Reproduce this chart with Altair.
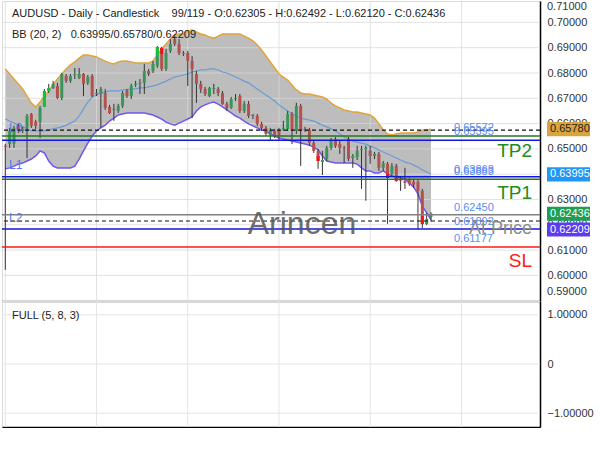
import altair as alt
import numpy as np
import pandas as pd

# ---------------- data ----------------
title_text = "AUDUSD - Daily - Candlestick\u00a0\u00a0\u00a0\u00a099/119 - O:0.62305 - H:0.62492 - L:0.62120 - C:0.62436"
bb_text = "BB (20, 2)\u00a0\u00a0\u00a00.63995/0.65780/0.62209"
osc_text = "FULL (5, 8, 3)"

opens = [
    0.6512, 0.6520, 0.6520, 0.6591, 0.6571, 0.6583, 0.6638, 0.6607, 0.6607, 0.6670,
    0.6729, 0.6741, 0.6749, 0.6701, 0.6788, 0.6769, 0.6792, 0.6780, 0.6796, 0.6761,
    0.6788, 0.6717, 0.6717, 0.6721, 0.6666, 0.6658, 0.6650, 0.6670, 0.6729, 0.6709,
    0.6753, 0.6757, 0.6761, 0.6808, 0.6808, 0.6828, 0.6899, 0.6816, 0.6887, 0.6934,
    0.6915, 0.6875, 0.6879, 0.6848, 0.6796, 0.6757, 0.6737, 0.6709, 0.6737, 0.6737,
    0.6721, 0.6678, 0.6662, 0.6697, 0.6709, 0.6650, 0.6678, 0.6634, 0.6630, 0.6599,
    0.6583, 0.6555, 0.6571, 0.6575, 0.6579, 0.6579, 0.6638, 0.6571, 0.6670, 0.6579,
    0.6575, 0.6524, 0.6492, 0.6448, 0.6460, 0.6504, 0.6539, 0.6519, 0.6504, 0.6539,
    0.6464, 0.6468, 0.6496, 0.6500, 0.6492, 0.6472, 0.6480, 0.6425, 0.6441, 0.6401,
    0.6433, 0.6382, 0.6374, 0.6378, 0.6370, 0.6370, 0.6334, 0.6203, 0.62305]
highs = [
    0.6520, 0.6583, 0.6591, 0.6599, 0.6587, 0.6638, 0.6642, 0.6615, 0.6670, 0.6737,
    0.6757, 0.6769, 0.6761, 0.6800, 0.6796, 0.6796, 0.6820, 0.6820, 0.6800, 0.6792,
    0.6796, 0.6737, 0.6745, 0.6737, 0.6674, 0.6678, 0.6678, 0.6729, 0.6737, 0.6757,
    0.6769, 0.6776, 0.6836, 0.6816, 0.6848, 0.6907, 0.6903, 0.6895, 0.6934, 0.6946,
    0.6934, 0.6887, 0.6887, 0.6867, 0.6808, 0.6769, 0.6745, 0.6745, 0.6757, 0.6745,
    0.6729, 0.6686, 0.6705, 0.6717, 0.6717, 0.6689, 0.6689, 0.6638, 0.6638, 0.6607,
    0.6591, 0.6583, 0.6579, 0.6583, 0.6611, 0.6650, 0.6646, 0.6682, 0.6678, 0.6587,
    0.6583, 0.6531, 0.6500, 0.6492, 0.6512, 0.6543, 0.6547, 0.6531, 0.6512, 0.6547,
    0.6480, 0.6512, 0.6512, 0.6512, 0.6512, 0.6488, 0.6488, 0.6452, 0.6448, 0.6444,
    0.6441, 0.6389, 0.6425, 0.6386, 0.6382, 0.6378, 0.6342, 0.6247, 0.62492]
lows = [
    0.6022, 0.6504, 0.6504, 0.6563, 0.6563, 0.6464, 0.6583, 0.6579, 0.6543, 0.6666,
    0.6721, 0.6737, 0.6697, 0.6693, 0.6761, 0.6761, 0.6776, 0.6776, 0.6709, 0.6753,
    0.6705, 0.6709, 0.6583, 0.6654, 0.6638, 0.6611, 0.6642, 0.6662, 0.6701, 0.6697,
    0.6745, 0.6717, 0.6717, 0.6788, 0.6800, 0.6820, 0.6808, 0.6808, 0.6879, 0.6907,
    0.6871, 0.6867, 0.6749, 0.6622, 0.6682, 0.6721, 0.6709, 0.6705, 0.6717, 0.6709,
    0.6674, 0.6650, 0.6658, 0.6689, 0.6642, 0.6642, 0.6622, 0.6618, 0.6591, 0.6571,
    0.6551, 0.6531, 0.6543, 0.6531, 0.6571, 0.6571, 0.6519, 0.6559, 0.6433, 0.6567,
    0.6512, 0.6484, 0.6421, 0.6397, 0.6452, 0.6496, 0.6504, 0.6480, 0.6444, 0.6452,
    0.6425, 0.6456, 0.6342, 0.6295, 0.6441, 0.6460, 0.6413, 0.6413, 0.6204, 0.6393,
    0.6370, 0.6334, 0.6342, 0.6354, 0.6346, 0.6183, 0.6187, 0.6199, 0.62120]
closes = [
    0.6508, 0.6571, 0.6583, 0.6571, 0.6579, 0.6630, 0.6591, 0.6591, 0.6662, 0.6729,
    0.6741, 0.6757, 0.6701, 0.6796, 0.6769, 0.6788, 0.6796, 0.6796, 0.6757, 0.6784,
    0.6709, 0.6721, 0.6737, 0.6662, 0.6642, 0.6654, 0.6670, 0.6721, 0.6709, 0.6749,
    0.6757, 0.6761, 0.6808, 0.6796, 0.6836, 0.6903, 0.6816, 0.6879, 0.6915, 0.6915,
    0.6879, 0.6879, 0.6848, 0.6816, 0.6757, 0.6737, 0.6717, 0.6741, 0.6741, 0.6721,
    0.6678, 0.6662, 0.6697, 0.6701, 0.6650, 0.6678, 0.6630, 0.6630, 0.6599, 0.6583,
    0.6559, 0.6575, 0.6551, 0.6551, 0.6583, 0.6638, 0.6575, 0.6670, 0.6571, 0.6575,
    0.6524, 0.6492, 0.6452, 0.6456, 0.6504, 0.6535, 0.6512, 0.6504, 0.6500, 0.6460,
    0.6472, 0.6492, 0.6500, 0.6504, 0.6472, 0.6480, 0.6425, 0.6444, 0.6385, 0.6433,
    0.6374, 0.6374, 0.6366, 0.6362, 0.6358, 0.6334, 0.6203, 0.6223, 0.62436]

bb_upper = [
    0.6816, 0.6796, 0.6776, 0.6757, 0.6737, 0.6709, 0.6681, 0.6666, 0.6685, 0.6709,
    0.6729, 0.6753, 0.6776, 0.6796, 0.6816, 0.6832, 0.6844, 0.6859, 0.6871, 0.6871,
    0.6867, 0.6863, 0.6855, 0.6847, 0.6840, 0.6836, 0.6844, 0.6847, 0.6847, 0.6844,
    0.6840, 0.6840, 0.6840, 0.6840, 0.6847, 0.6871, 0.6895, 0.6915, 0.6934, 0.6950,
    0.6954, 0.6954, 0.6966, 0.6970, 0.6962, 0.6954, 0.6950, 0.6942, 0.6938, 0.6946,
    0.6954, 0.6954, 0.6954, 0.6954, 0.6954, 0.6946, 0.6938, 0.6927, 0.6911, 0.6891,
    0.6867, 0.6844, 0.6820, 0.6796, 0.6784, 0.6772, 0.6753, 0.6733, 0.6721, 0.6717,
    0.6717, 0.6713, 0.6709, 0.6705, 0.6697, 0.6681, 0.6670, 0.6662, 0.6654, 0.6650,
    0.6646, 0.6646, 0.6642, 0.6638, 0.6634, 0.6622, 0.6599, 0.6575, 0.6559, 0.6555,
    0.6559, 0.6563, 0.6563, 0.6563, 0.6563, 0.6567, 0.6575, 0.6575, 0.65780]
bb_mid = [
    0.6618, 0.6610, 0.6602, 0.6594, 0.6587, 0.6579, 0.6571, 0.6571, 0.6571, 0.6571,
    0.6575, 0.6579, 0.6583, 0.6587, 0.6594, 0.6602, 0.6610, 0.6630, 0.6658, 0.6685,
    0.6705, 0.6713, 0.6721, 0.6725, 0.6729, 0.6729, 0.6729, 0.6733, 0.6733, 0.6737,
    0.6737, 0.6741, 0.6741, 0.6745, 0.6749, 0.6753, 0.6761, 0.6768, 0.6776, 0.6784,
    0.6788, 0.6792, 0.6796, 0.6804, 0.6808, 0.6812, 0.6812, 0.6816, 0.6816, 0.6812,
    0.6804, 0.6800, 0.6792, 0.6784, 0.6776, 0.6768, 0.6761, 0.6749, 0.6737, 0.6725,
    0.6713, 0.6701, 0.6689, 0.6674, 0.6662, 0.6650, 0.6638, 0.6630, 0.6622, 0.6618,
    0.6614, 0.6610, 0.6602, 0.6594, 0.6587, 0.6579, 0.6571, 0.6559, 0.6547, 0.6539,
    0.6531, 0.6527, 0.6523, 0.6519, 0.6511, 0.6504, 0.6496, 0.6488, 0.6480, 0.6472,
    0.6464, 0.6456, 0.6448, 0.6444, 0.6436, 0.6428, 0.6417, 0.6409, 0.63995]
bb_lower = [
    0.6421, 0.6425, 0.6432, 0.6440, 0.6444, 0.6452, 0.6460, 0.6472, 0.6492, 0.6484,
    0.6452, 0.6432, 0.6425, 0.6425, 0.6425, 0.6425, 0.6432, 0.6460, 0.6492, 0.6523,
    0.6551, 0.6571, 0.6583, 0.6594, 0.6610, 0.6622, 0.6634, 0.6638, 0.6642, 0.6642,
    0.6642, 0.6642, 0.6642, 0.6638, 0.6634, 0.6626, 0.6618, 0.6606, 0.6599, 0.6594,
    0.6602, 0.6610, 0.6618, 0.6626, 0.6650, 0.6666, 0.6674, 0.6681, 0.6685, 0.6677,
    0.6666, 0.6654, 0.6642, 0.6630, 0.6622, 0.6610, 0.6599, 0.6591, 0.6583, 0.6575,
    0.6571, 0.6559, 0.6551, 0.6543, 0.6539, 0.6535, 0.6531, 0.6527, 0.6523, 0.6519,
    0.6515, 0.6507, 0.6496, 0.6472, 0.6452, 0.6448, 0.6444, 0.6444, 0.6444, 0.6444,
    0.6444, 0.6440, 0.6425, 0.6413, 0.6413, 0.6405, 0.6405, 0.6413, 0.6401, 0.6393,
    0.6389, 0.6385, 0.6381, 0.6365, 0.6349, 0.6322, 0.6274, 0.6247, 0.62209]

# highlighted (signal) candle segments
hl_idx = [9, 10, 35, 36, 72, 88, 90, 96]
hl_top = [0.6729, 0.6741, 0.6903, 0.6899, 0.6472, 0.6401, 0.6385, 0.6235]
hl_bot = [0.6666, 0.6729, 0.6867, 0.6875, 0.6452, 0.6385, 0.6374, 0.6203]
hl_dir = ["up", "up", "up", "down", "down", "down", "down", "down"]

# horizontal levels
level_prices = [0.6574, 0.6551, 0.6534, 0.6390, 0.6380, 0.6240, 0.6215, 0.6183, 0.6112]
level_kinds = ["dash", "green", "blue", "blue", "green", "gray", "dash", "blue", "red"]

price_ticks = [0.60, 0.61, 0.62, 0.63, 0.64, 0.65, 0.66, 0.67, 0.68, 0.69, 0.70]
grid_idx = [0, 21, 42, 63, 84, 105]
osc_ticks = [1, 0, -1]

box_values = [0.65780, 0.63995, 0.62436]
box_fills = ["#d9a43c", "#2196f3", "#1e9e52"]
box_text_colors = ["#222222", "#ffffff", "#ffffff"]
lower_box_value = 0.62209

n = len(closes)
for arr in (opens, highs, lows, bb_upper, bb_mid, bb_lower):
    assert len(arr) == n, len(arr)

# ---------------- scales / axes ----------------
FONT = "Liberation Sans"
XS = alt.Scale(domain=[-0.76, 123.09], nice=False, zero=False, padding=0)
YS = alt.Scale(domain=[0.58988, 0.70846], nice=False, zero=False, padding=0)
XAX = alt.Axis(orient="bottom", labels=False, ticks=False, grid=False, domain=True,
               domainColor="#555555", domainWidth=1.5, title=None)
YAX = alt.Axis(orient="right", values=price_ticks, format=".5f", grid=False, ticks=False,
               labelPadding=7, domain=True, domainColor="#000000", domainWidth=1.5,
               labelFontSize=11, labelColor="#333333", title=None, labelOverlap=False,
               zindex=0, labelFont=FONT)


def X(f):
    return alt.X(f"{f}:Q", scale=XS, axis=XAX)


def Y(f):
    return alt.Y(f"{f}:Q", scale=YS, axis=YAX)


def vtext(txt, x, y, size=11, color="#222222", align="left", **kw):
    return alt.Chart(pd.DataFrame({"t": [txt]})).mark_text(
        align=align, baseline="middle", fontSize=size, color=color, font=FONT, **kw
    ).encode(text="t:N", x=alt.value(x), y=alt.value(y))


def ltext(txt, level, x, dy, size=11, color="#5b8def", align="left", **kw):
    d = pd.DataFrame({"t": [txt], "p": [level_prices[level]]})
    return alt.Chart(d).mark_text(
        align=align, baseline="middle", fontSize=size, color=color, font=FONT, dy=dy, **kw
    ).encode(text="t:N", x=alt.value(x), y=Y("p"))


# ---------------- main panel ----------------
bb = pd.DataFrame({"i": range(n), "up": bb_upper, "mid": bb_mid, "lo": bb_lower})
band = alt.Chart(bb).mark_area(color="#bdbdbd", opacity=1).encode(x=X("i"), y=Y("up"), y2="lo")
hgrid = alt.Chart(pd.DataFrame({"p": price_ticks})).mark_rule(
    color="#d8d8d8", opacity=0.75, strokeWidth=1).encode(y=Y("p"))
vgrid = alt.Chart(pd.DataFrame({"g": grid_idx})).mark_rule(
    color="#d8d8d8", opacity=0.75, strokeWidth=1).encode(x=X("g"))
up_line = alt.Chart(bb).mark_line(color="#e2a43a", strokeWidth=1.5).encode(x=X("i"), y=Y("up"))
mid_line = alt.Chart(bb).mark_line(color="#6a9bd8", strokeWidth=1.2).encode(x=X("i"), y=Y("mid"))
lo_line = alt.Chart(bb).mark_line(color="#7356f0", strokeWidth=1.5).encode(x=X("i"), y=Y("lo"))

cd = pd.DataFrame({"i": range(n), "o": opens, "h": highs, "l": lows, "c": closes})
cd["dir"] = np.where(cd["c"] >= cd["o"], "up", "down")
wicks = alt.Chart(cd).mark_rule(color="#333333", strokeWidth=1).encode(x=X("i"), y=Y("l"), y2="h")
body_up = alt.Chart(cd[cd["dir"] == "up"]).mark_bar(size=3, color="#3b9559").encode(
    x=X("i"), y=Y("o"), y2="c")
body_dn = alt.Chart(cd[cd["dir"] == "down"]).mark_bar(size=3, color="#b5504c").encode(
    x=X("i"), y=Y("o"), y2="c")
hl = pd.DataFrame({"i": hl_idx, "t": hl_top, "b": hl_bot, "dir": hl_dir})
hl_up = alt.Chart(hl[hl["dir"] == "up"]).mark_bar(size=3, color="#13c237").encode(
    x=X("i"), y=Y("t"), y2="b")
hl_dn = alt.Chart(hl[hl["dir"] == "down"]).mark_bar(size=3, color="#f01414").encode(
    x=X("i"), y=Y("t"), y2="b")

lv = pd.DataFrame({"p": level_prices, "kind": level_kinds})
styles = {
    "dash": dict(color="#111111", strokeWidth=1.2, strokeDash=[4, 3]),
    "green": dict(color="#1f7a1f", strokeWidth=1.5),
    "blue": dict(color="#1515e0", strokeWidth=1.5),
    "gray": dict(color="#808080", strokeWidth=1.5),
    "red": dict(color="#ff1a1a", strokeWidth=1.5),
}
level_layers = [
    alt.Chart(lv[lv["kind"] == k]).mark_rule(**s).encode(y=Y("p")) for k, s in styles.items()
]

labels = [
    ltext("0.65572", 0, 452, -2),
    ltext("0.65395", 1, 452, -4),
    ltext("0.63868", 3, 452, -7),
    ltext("0.63883", 4, 452, -7),
    ltext("0.62450", 5, 452, -7),
    ltext("0.61892", 6, 452, 1),
    ltext("0.61177", 7, 452, 10),
    ltext("TP2", 1, 530, 15, size=19, color="#228b22", align="right"),
    ltext("TP1", 4, 530, 14, size=19, color="#228b22", align="right"),
    ltext("SL", 8, 530, 14, size=19, color="#ff1a1a", align="right"),
    ltext("At Price", 5, 530, 14, size=18, color="#8c8c8c", align="right"),
    ltext("L0", 0, 7, -2, size=12, color="#4a7cf0"),
    ltext("L1", 3, 7, -12, size=12, color="#4a7cf0"),
    ltext("L2", 6, 7, -3, size=12, color="#4a7cf0"),
]

watermark = vtext("Arincen", 300, 223, size=32, color="#555555", align="center", opacity=0.85)
titles = [vtext(title_text, 10, 13), vtext(bb_text, 10, 34)]
extra_ticks = [vtext("0.71000", 545, 6, color="#333333"), vtext("0.59000", 545, 291, color="#333333")]

BOX = "M-1,-0.33L1,-0.33L1,0.33L-1,0.33Z"


def box(price, fill, tcolor, yoff=0):
    d = pd.DataFrame({"p": [price], "t": [f"{price:.5f}"]})
    b = alt.Chart(d).mark_point(shape=BOX, size=1849, filled=True, color=fill, opacity=1,
                                strokeWidth=0, yOffset=yoff).encode(x=alt.value(566.5), y=Y("p"))
    t = alt.Chart(d).mark_text(align="left", baseline="middle", fontSize=11, color=tcolor,
                               font=FONT, yOffset=yoff).encode(x=alt.value(548), y=Y("p"), text="t:N")
    return [b, t]


boxes = []
for v, f, tc in zip(box_values, box_fills, box_text_colors):
    boxes += box(v, f, tc)
boxes += box(lower_box_value, "#5c3cf0", "#ffffff", yoff=10)

main = alt.layer(
    band, hgrid, vgrid, up_line, mid_line, lo_line, wicks, body_up, body_dn, hl_up, hl_dn,
    *level_layers, watermark, *labels, *titles, *extra_ticks, *boxes
).properties(width=538, height=300)

# ---------------- lower panel ----------------
OYS = alt.Scale(domain=[-1.28, 1.28], nice=False, zero=False)
OYAX = alt.Axis(orient="right", values=osc_ticks,
                labelExpr="datum.value == 0 ? '0' : format(datum.value, '.5f')",
                grid=False, ticks=False, labelPadding=7, domainColor="#000000", domainWidth=1.5,
                labelFontSize=11, labelColor="#333333", title=None, labelFont=FONT)
OXAX = alt.Axis(orient="bottom", labels=False, ticks=False, grid=False, domainColor="#000000",
                domainWidth=1.5, title=None)
og_h = alt.Chart(pd.DataFrame({"v": osc_ticks})).mark_rule(color="#e4e4e4").encode(
    y=alt.Y("v:Q", scale=OYS, axis=OYAX))
og_v = alt.Chart(pd.DataFrame({"g": grid_idx})).mark_rule(color="#e4e4e4").encode(
    x=alt.X("g:Q", scale=XS, axis=OXAX))
lower = alt.layer(og_h, og_v, vtext(osc_text, 10, 15)).properties(width=538, height=126)

chart = alt.vconcat(main, lower, spacing=0, padding=0, bounds="flush").configure_view(
    strokeWidth=0).configure(font=FONT)
chart.save("out.html", embed_options={"renderer": "svg", "actions": False})
